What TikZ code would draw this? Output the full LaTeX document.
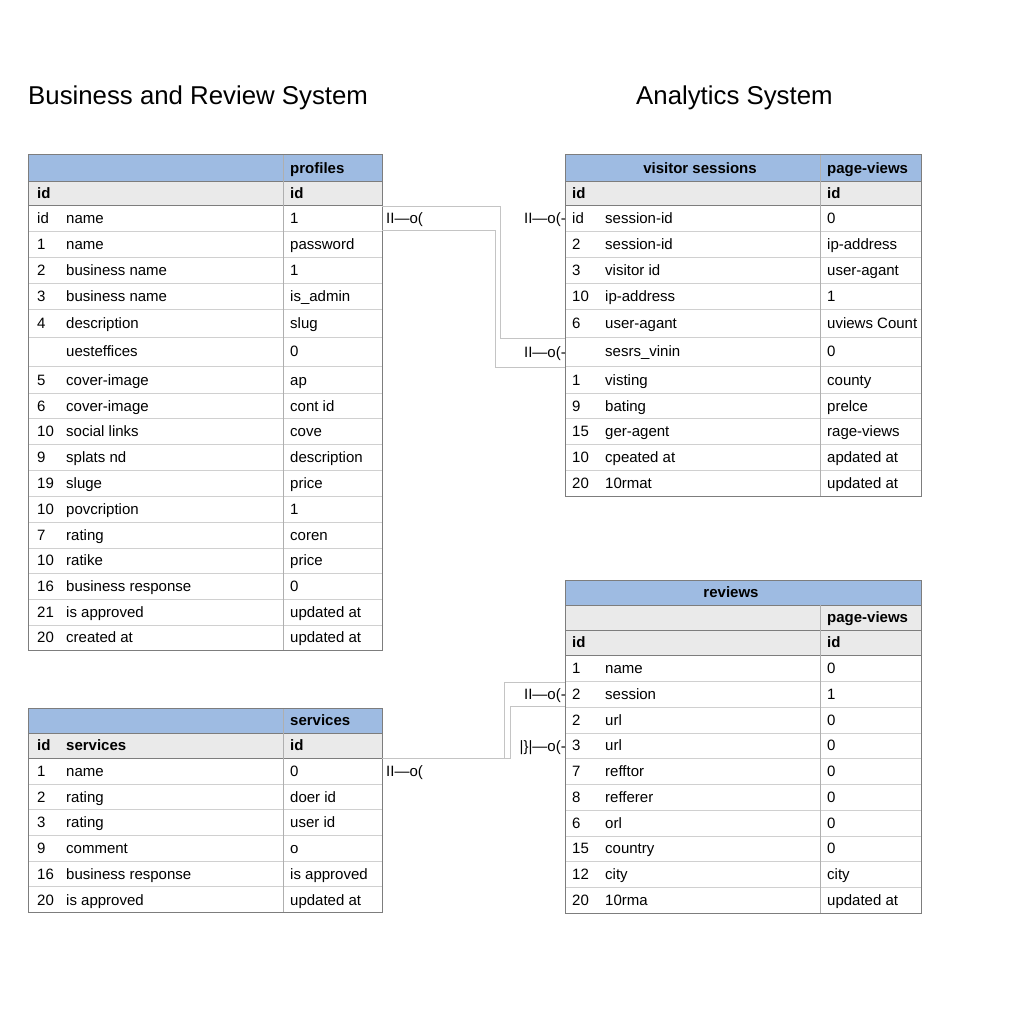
\documentclass[tikz,border=0pt]{standalone}
\usepackage{fontspec}
\setmainfont{Liberation Sans}
\usetikzlibrary{calc}

\definecolor{headblue}{RGB}{158,187,226}
\definecolor{headgray}{RGB}{234,234,234}
\definecolor{rulegray}{RGB}{208,208,208}
\definecolor{colgray}{RGB}{175,175,175}
\definecolor{framegray}{RGB}{125,125,125}
\definecolor{linkgray}{RGB}{196,196,196}

\tikzset{
  cell/.style={anchor=west, inner sep=0pt, text height=10.8pt, text depth=0pt, font=\fontsize{15}{18}\selectfont},
  headcell/.style={cell, font=\fontsize{15}{18}\selectfont\bfseries},
  card/.style={anchor=east, inner sep=0pt, text height=10.8pt, text depth=0pt, font=\fontsize{15}{18}\selectfont},
  title/.style={anchor=west, inner sep=0pt, text height=18.5pt, text depth=0pt, font=\fontsize{25.8}{30}\selectfont},
  link/.style={draw=linkgray, line width=0.9pt},
  frame/.style={draw=framegray, line width=1pt},
}

\begin{document}
\begin{tikzpicture}[x=1pt, y=-1pt]
  \useasboundingbox (0,0) rectangle (1024,1024);
  % Titles
  \node[title] (bustitle) at (28,95) {Business and Review System};
  \node[title] (anatitle) at (636,95) {Analytics System};

  % profiles table
  \fill[headblue] (28,155) rectangle (382,181);
  \fill[headgray] (28,181) rectangle (382,205);
  \foreach \y in {231,257,283,309,337,366,393,418,444,470,496,522,548,573,599,625}
    \draw[rulegray] (28,\y) -- (382,\y);
  \draw[framegray] (28,181) -- (382,181) (28,205) -- (382,205);
  \draw[colgray] (283,155) -- (283,650);
  \draw[frame] (28,155) rectangle (382,650);
  \node[headcell] (prof-head) at (290,168) {profiles};
  \node[headcell] (prof-idl) at (37,193) {id};
  \node[headcell] (prof-idr) at (290,193) {id};
  \foreach \y/\n/\a/\b [count=\i] in {218/id/name/1, 244/1/name/password,
      270/2/business name/1, 296/3/business name/is\_admin, 323/4/description/slug,
      351/{}/uesteffices/0, 380/5/cover-image/ap, 406/6/cover-image/cont id,
      431/10/social links/cove, 457/9/splats nd/description, 483/19/sluge/price,
      509/10/povcription/1, 535/7/rating/coren, 560/10/ratike/price,
      586/16/business response/0, 612/21/is approved/updated at, 637/20/created at/updated at} {
    \node[cell] (prof-n\i) at (37,\y) {\n};
    \node[cell] (prof-a\i) at (66,\y) {\a};
    \node[cell] (prof-b\i) at (290,\y) {\b};
  }

  % services table
  \fill[headblue] (28,708) rectangle (382,733);
  \fill[headgray] (28,733) rectangle (382,758);
  \foreach \y in {784,809,835,861,886}
    \draw[rulegray] (28,\y) -- (382,\y);
  \draw[framegray] (28,733) -- (382,733) (28,758) -- (382,758);
  \draw[colgray] (283,708) -- (283,912);
  \draw[frame] (28,708) rectangle (382,912);
  \node[headcell] (serv-head) at (290,720) {services};
  \node[headcell] (serv-idl) at (37,745) {id};
  \node[headcell] (serv-sub) at (66,745) {services};
  \node[headcell] (serv-idr) at (290,745) {id};
  \foreach \y/\n/\a/\b [count=\i] in {771/1/name/0, 797/2/rating/doer id,
      822/3/rating/user id, 848/9/comment/o, 874/16/business response/is approved,
      900/20/is approved/updated at} {
    \node[cell] (serv-n\i) at (37,\y) {\n};
    \node[cell] (serv-a\i) at (66,\y) {\a};
    \node[cell] (serv-b\i) at (290,\y) {\b};
  }

  % visitor sessions table
  \fill[headblue] (565,155) rectangle (921,181);
  \fill[headgray] (565,181) rectangle (921,205);
  \foreach \y in {231,257,283,309,337,366,393,418,444,470}
    \draw[rulegray] (565,\y) -- (921,\y);
  \draw[framegray] (565,181) -- (921,181) (565,205) -- (921,205);
  \draw[colgray] (820,155) -- (820,496);
  \draw[frame] (565,155) rectangle (921,496);
  \node[headcell, anchor=center] (vis-head) at (700,168) {visitor sessions};
  \node[headcell] (vis-page) at (827,168) {page-views};
  \node[headcell] (vis-idl) at (572,193) {id};
  \node[headcell] (vis-idr) at (827,193) {id};
  \foreach \y/\n/\a/\b [count=\i] in {218/id/session-id/0, 244/2/session-id/ip-address,
      270/3/visitor id/user-agant, 296/10/ip-address/1, 323/6/user-agant/uviews Count,
      351/{}/sesrs\_vinin/0, 380/1/visting/county, 406/9/bating/prelce,
      431/15/ger-agent/rage-views, 457/10/cpeated at/apdated at, 483/20/10rmat/updated at} {
    \node[cell] (vis-n\i) at (572,\y) {\n};
    \node[cell] (vis-a\i) at (605,\y) {\a};
    \node[cell] (vis-b\i) at (827,\y) {\b};
  }

  % reviews table
  \fill[headblue] (565,580) rectangle (921,605);
  \fill[headgray] (565,605) rectangle (921,655);
  \foreach \y in {681,707,733,758,784,810,836,861,887}
    \draw[rulegray] (565,\y) -- (921,\y);
  \draw[framegray] (565,605) -- (921,605) (565,630) -- (921,630) (565,655) -- (921,655);
  \draw[colgray] (820,605) -- (820,913);
  \draw[frame] (565,580) rectangle (921,913);
  \node[headcell, anchor=center] (rev-head) at (731,592) {reviews};
  \node[headcell] (rev-page) at (827,617) {page-views};
  \node[headcell] (rev-idl) at (572,642) {id};
  \node[headcell] (rev-idr) at (827,642) {id};
  \foreach \y/\n/\a/\b [count=\i] in {668/1/name/0, 694/2/session/1, 720/2/url/0,
      745/3/url/0, 771/7/refftor/0, 797/8/refferer/0, 823/6/orl/0,
      848/15/country/0, 874/12/city/city, 900/20/10rma/updated at} {
    \node[cell] (rev-n\i) at (572,\y) {\n};
    \node[cell] (rev-a\i) at (605,\y) {\a};
    \node[cell] (rev-b\i) at (827,\y) {\b};
  }

  % Connector ends
  \coordinate (prof-out1) at (382,206);
  \coordinate (prof-out2) at (382,230);
  \coordinate (vis-in1) at (565,338);
  \coordinate (vis-in2) at (565,367);
  \coordinate (serv-out) at (382,758);
  \coordinate (split) at (504,758);
  \coordinate (rev-in1) at (565,682);
  \coordinate (rev-in2) at (565,706);
  % Connectors
  \draw[link] (prof-out1) -| (500,338) -- (vis-in1);
  \draw[link] (prof-out2) -| (495,367) -- (vis-in2);
  \draw[link] (serv-out) -- (split) |- (rev-in1);
  \draw[link] (split) -- (510,758) |- (rev-in2);
  % Cardinality marks
  \node[cell] (mark-p1) at (386,218) {II—o(};
  \node[card] (mark-v1) at (566,218) {II—o(-};
  \node[card] (mark-v2) at (566,352) {II—o(-};
  \node[cell] (mark-s1) at (386,771) {II—o(};
  \node[card] (mark-r1) at (566,694) {II—o(-};
  \node[card] (mark-r2) at (566,746) {|\}|—o(-};
\end{tikzpicture}
\end{document}
